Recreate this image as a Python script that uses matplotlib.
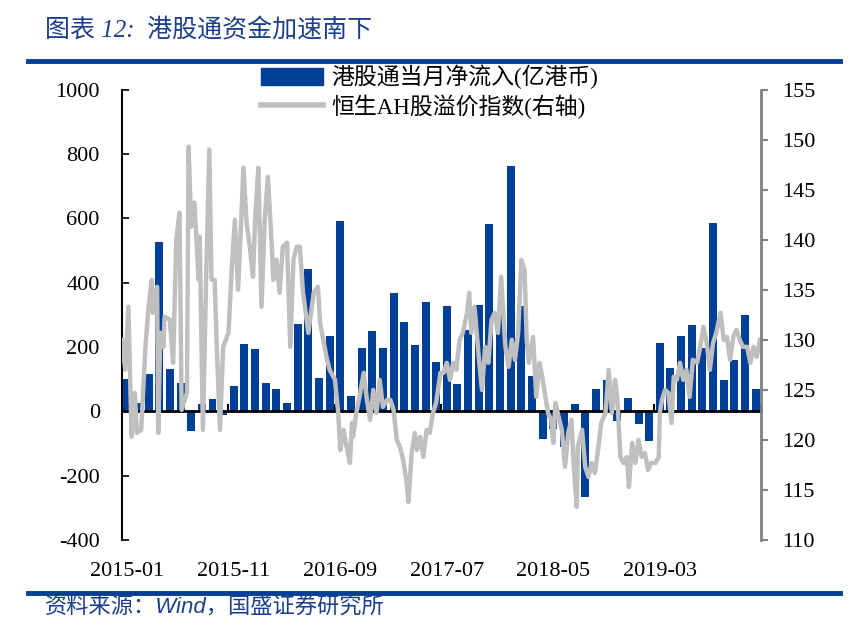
import numpy as np
import pandas as pd
import matplotlib
matplotlib.use('Agg')
import matplotlib.pyplot as plt
from matplotlib.patches import Patch
from matplotlib.lines import Line2D

# monthly southbound net inflow (100m HKD), 2015-01 .. 2019-12
months = pd.date_range('2015-01-01', periods=60, freq='MS')
inflow = [100, 25, 115, 527, 130, 88, -60, 22, 38, -10,
          78, 210, 193, 88, 69, 27, 270, 443, 103, 233,
          592, 48, 197, 249, 197, 369, 277, 205, 341, 153,
          326, 85, 254, 332, 583, 310, 764, 326, 110, -85,
          -55, -110, 22, -265, 69, 96, -30, 40, -40, -91,
          212, 134, 233, 269, 197, 585, 97, 158, 298, 69]

# AH premium index, time in months since 2015-01 and value
ah_month = [0.0, 0.3, 0.6, 0.9, 1.2, 1.4, 1.8, 2.2, 2.5, 2.8, 2.9, 3.3, 3.4, 3.6, 3.9,
            4.0, 4.5, 4.8, 5.1, 5.4, 5.6, 6.1, 6.25, 6.5, 6.8, 7.2, 7.3, 7.6, 7.9, 8.2,
            8.4, 8.7, 8.9, 9.2, 9.5, 10.0, 10.3, 10.6, 10.9, 11.2, 11.4, 11.7, 12.0, 12.3,
            12.5, 12.8, 13.1, 13.4, 13.7, 14.1, 14.2, 14.5, 14.8, 15.1, 15.5, 15.8, 16.1,
            16.4, 16.7, 17.0, 17.5, 18.0, 18.4, 18.6, 18.9, 19.2, 19.5,
            20.0, 20.3, 20.5, 20.8, 21.1, 21.4, 21.6, 21.7, 22.0, 22.3, 22.7, 23.0, 23.3,
            23.6, 23.9, 24.2, 24.5, 24.9, 25.2, 25.5, 25.8, 26.1, 26.4, 26.7, 26.9, 27.2,
            27.5, 27.7, 28.0, 28.3, 28.6, 28.9, 29.2, 29.5, 29.9, 30.2, 30.5, 30.8, 31.1,
            31.4, 31.7, 32.0, 32.4, 32.6, 32.8, 33.1, 33.5, 33.8, 34.1, 34.4, 34.7, 35.0,
            35.3, 35.6, 36.0, 36.3, 36.6, 36.9, 37.2, 37.5, 37.8, 38.0, 38.2, 38.6, 38.9,
            39.2, 39.4, 39.7, 40.0, 40.3, 40.5, 40.7, 41.0, 41.3, 41.6, 41.9, 42.2, 42.4,
            42.7, 42.8, 43.2, 43.5, 43.8, 44.1, 44.4, 44.7, 45.0, 45.4, 45.7, 46.0, 46.3,
            46.5, 46.8, 47.1, 47.4, 47.6, 47.9, 48.2, 48.5, 48.8, 49.1, 49.4, 49.7, 50.1,
            50.4, 50.5, 50.7, 51.0, 51.3, 51.6, 51.8, 52.1, 52.4, 52.7, 53.0, 53.3, 53.6,
            54.0, 54.3, 54.6, 54.9, 55.2, 55.5, 55.8, 56.2, 56.5, 56.8, 57.1, 57.4, 57.7,
            58.0, 58.3, 58.7, 59.0, 59.3, 59.6, 59.9]
ah_value = [130, 127, 133.3, 120.3, 124.7, 120.7, 121, 129.3, 133.3, 136, 132.7, 135.3, 120.7, 130.7, 129.3,
            132.3, 132, 127.7, 140, 142.7, 123, 124.7, 149.3, 141.3, 143.7, 136, 140.3, 121, 136, 149,
            136, 136, 129.3, 121, 129.3, 130.7, 137, 142, 135, 142, 147.2, 141.7, 139.3, 136.3,
            142, 147.2, 133.3, 142, 146.3, 138.7, 136, 138, 134.7, 139.3, 139.7, 129.3, 138,
            139.3, 139.3, 134.7, 130.7, 134.7, 135.3, 131.7, 130, 128.3, 127,
            126, 122.7, 119, 121, 119.3, 117.7, 121.7, 120.3, 122.7, 124.3, 126.7, 124, 122,
            125, 122.7, 126, 123.3, 124, 124, 123, 120, 119.3, 118, 116, 113.8, 118.7,
            120.7, 119, 120.3, 118.3, 121, 120.7, 122.7, 123.7, 126.7, 126.7, 127.7, 126, 127.7,
            127, 130, 130.7, 132.7, 134.7, 130.7, 133.3, 128.3, 125, 129.3, 127.7, 132, 132.7,
            130.7, 136.3, 129.3, 127.3, 130, 128, 130.7, 138, 137, 130, 127.7, 130.3, 124.3,
            127.7, 126.7, 124.7, 122.7, 122, 119.7, 123.7, 122.3, 121, 117.3, 120.7, 122, 117.7,
            113.3, 119.3, 121, 117.3, 116.3, 117.7, 116.7, 119, 121.7, 122.7, 127, 122.7, 126,
            124.3, 118.3, 117.7, 118.3, 115.3, 119.7, 117.7, 120, 118.3, 118.7, 117, 117.7, 117.7,
            118.3, 122.7, 124, 125, 124.7, 121.7, 126.3, 126, 127.7, 126, 127, 124.3, 128,
            127.7, 129.3, 131.3, 129.7, 127, 129.7, 130.7, 132.7, 130, 130.3, 128, 130.3, 131,
            130, 129.3, 129.3, 127.7, 129.3, 128.3, 130]

tick_labels = ['2015-01', '2015-11', '2016-09', '2017-07', '2018-05', '2019-03']

blue = '#003F98'
serif_cjk = ['Liberation Serif', 'Noto Sans CJK SC']
plt.rcParams['font.family'] = serif_cjk
plt.rcParams['axes.unicode_minus'] = False

fig = plt.figure(figsize=(8.56, 6.31), dpi=100)
ax = fig.add_axes([0.1425, 0.1442, 0.7465, 0.7138])

x = np.arange(len(months))
ax.bar(x, inflow, width=0.75, color=blue, zorder=2)

ax.set_xlim(-0.5, len(months) - 0.5)
ax.set_ylim(-400, 1000)
ax.set_yticks(np.arange(-400, 1001, 200))
ax.tick_params(axis='y', direction='in', length=5, width=1.2, pad=16, labelsize=16)
for s in ['top', 'right']:
    ax.spines[s].set_visible(False)
ax.spines['left'].set_linewidth(1.5)
ax.spines['bottom'].set_position(('data', 0))
ax.spines['bottom'].set_linewidth(2)
ax.spines['bottom'].set_zorder(3)
ax.set_xticks(np.arange(9.5, 60, 10))
ax.tick_params(axis='x', direction='in', length=5, width=1.5, labelbottom=False)

# date labels at the bottom of the plot area
label_pos = [months.get_loc(pd.Timestamp(t + '-01')) for t in tick_labels]
sec = ax.secondary_xaxis(0)
sec.set_xticks(label_pos, tick_labels)
sec.tick_params(length=0, pad=16, labelsize=16)
sec.spines['bottom'].set_visible(False)

ax2 = ax.twinx()
ax2.plot(np.array(ah_month) - 0.5, ah_value, color='#BFBFBF', lw=3.2)
ax2.set_ylim(110, 155)
ax2.set_yticks(np.arange(110, 156, 5))
ax2.tick_params(axis='y', direction='out', length=5, width=1.5, color='#808080', pad=10, labelsize=16)
for s in ['top', 'left', 'bottom']:
    ax2.spines[s].set_visible(False)
ax2.spines['right'].set_color('#808080')
ax2.spines['right'].set_linewidth(2)

handles = [Patch(facecolor=blue, edgecolor=blue),
           Line2D([], [], color='#BFBFBF', lw=4)]
labels = ['港股通当月净流入(亿港币)', '恒生AH股溢价指数(右轴)']
fig.legend(handles, labels, loc='upper left', bbox_to_anchor=(0.305, 0.897),
           frameon=False, fontsize=16.5, handlelength=2.7, handleheight=0.75,
           handletextpad=0.35, labelspacing=0.2, borderpad=0, borderaxespad=0)

# header / footer
fig.text(0.053, 0.952, '图表 12:  港股通资金加速南下', fontsize=18, style='italic',
         color='#1B3F8B', va='center', family=serif_cjk)
fig.add_artist(Line2D([0.033, 0.981], [0.903, 0.903], color=blue, lw=3.5))
fig.add_artist(Line2D([0.033, 0.981], [0.060, 0.060], color=blue, lw=3.5))
fig.text(0.053, 0.037, '资料来源：Wind，国盛证券研究所', fontsize=16, style='italic',
         color='#1B3F8B', va='center', family=['Liberation Sans', 'Noto Sans CJK SC'])

fig.savefig('out.png', dpi=100)
